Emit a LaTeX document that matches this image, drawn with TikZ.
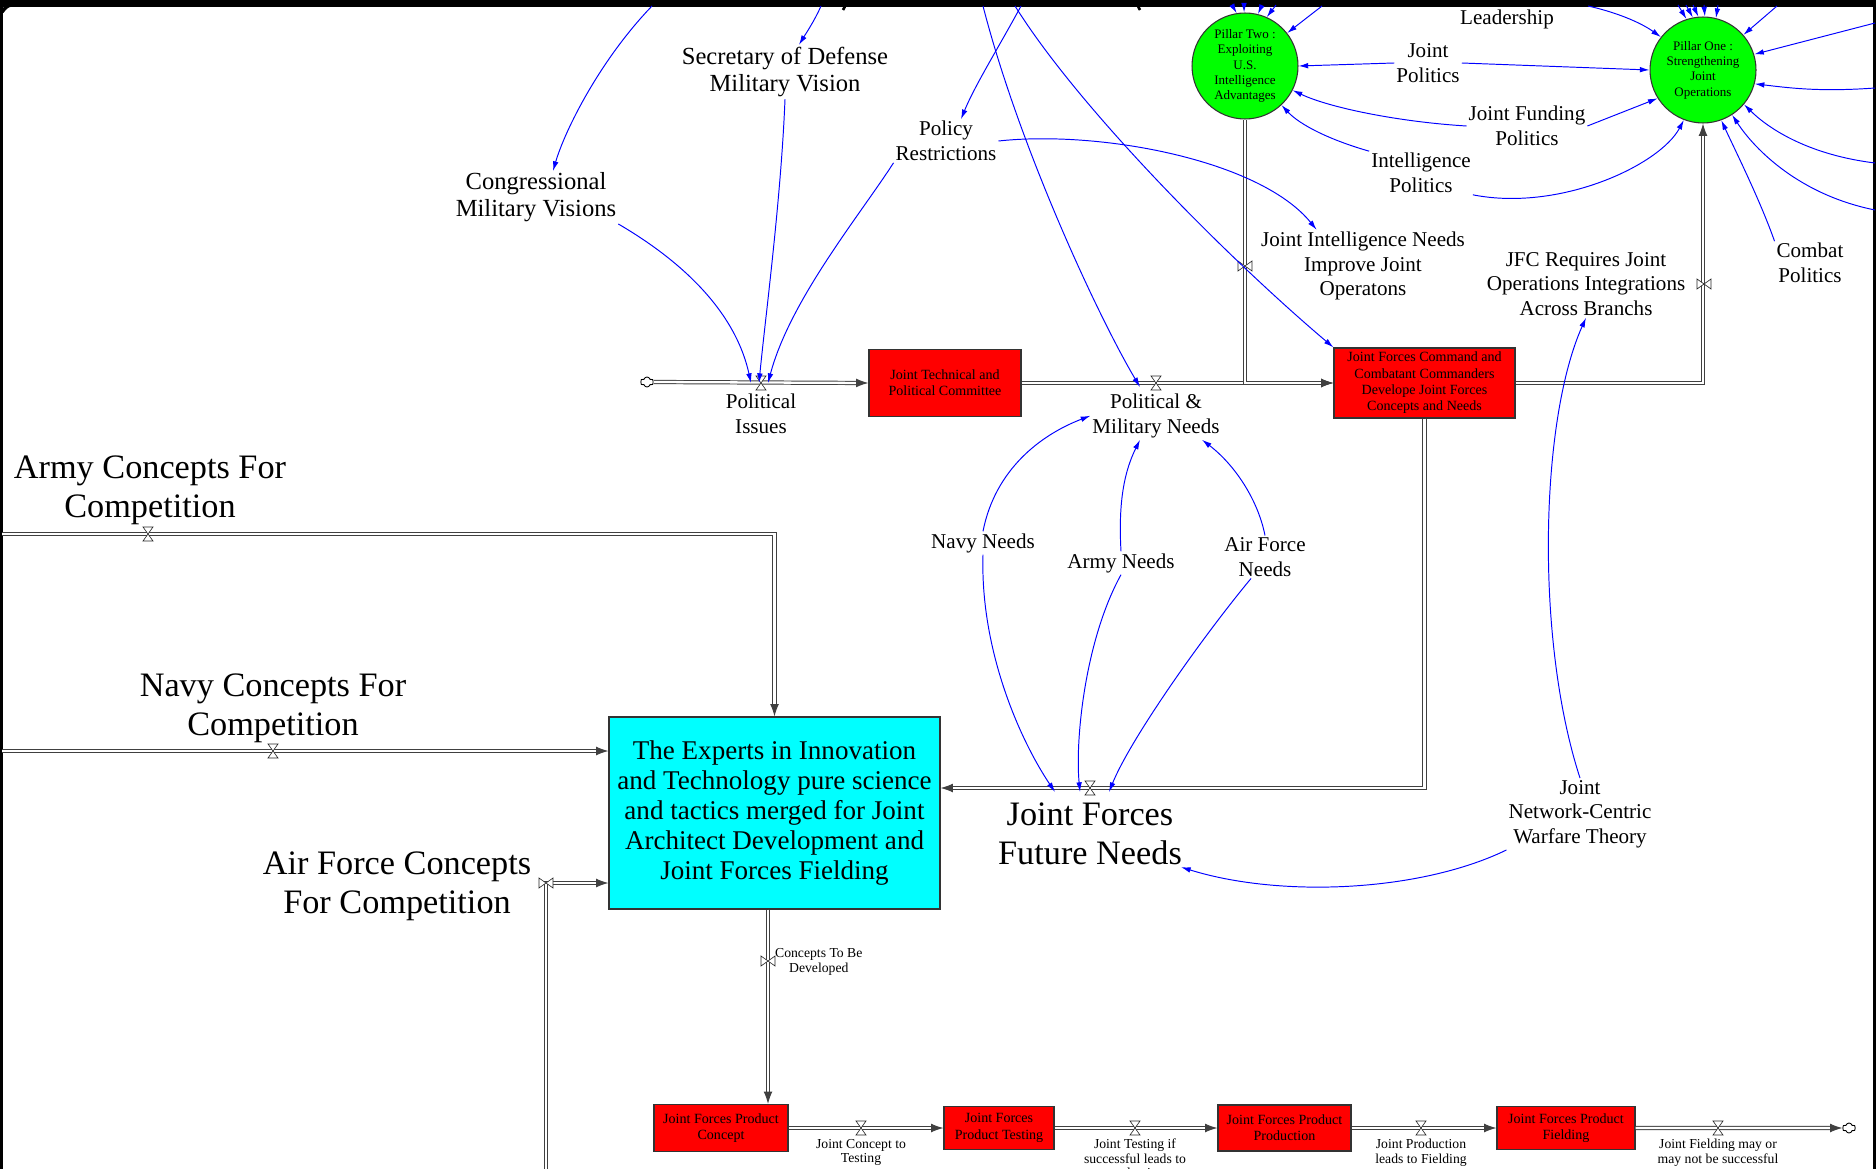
\documentclass[tikz,border=0pt]{standalone}
\usepackage{fontspec}
\setmainfont{Liberation Serif}
\usetikzlibrary{shapes.symbols, shapes.geometric, arrows.meta, positioning, calc}

\definecolor{stockred}{RGB}{255,0,0}
\definecolor{pillargreen}{RGB}{0,255,0}
\definecolor{expertcyan}{RGB}{0,255,255}
\definecolor{linkblue}{RGB}{0,0,255}

% valve symbols sitting on the pipes
\tikzset{
  valveh/.pic={\draw[draw=black!85, fill=white, line width=0.35pt] (-5,-7) -- (5,-7) -- (-5,7) -- (5,7) -- cycle;},
  valvev/.pic={\draw[draw=black!85, fill=white, line width=0.35pt] (-7,-5) -- (-7,5) -- (7,-5) -- (7,5) -- cycle;},
}

\begin{document}
\begin{tikzpicture}[x=0.02cm, y=-0.02cm,
    biglbl/.style={align=center, inner sep=1pt, font=\fontsize{19.5}{22.2}\selectfont},
    midlbl/.style={align=center, inner sep=1pt, font=\fontsize{14}{15.6}\selectfont},
    lbl/.style={align=center, inner sep=1pt, font=\fontsize{12}{14}\selectfont},
    tinylbl/.style={align=center, inner sep=1pt, font=\fontsize{7.8}{8.3}\selectfont},
    stock/.style={rectangle, draw=black!80, fill=stockred, line width=0.7pt, align=center, inner sep=0pt, font=\fontsize{8}{9.3}\selectfont},
    pillar/.style={circle, draw=black!80, fill=pillargreen, line width=0.6pt, minimum size=2.12cm, inner sep=0pt, align=center, font=\fontsize{7.4}{8.7}\selectfont},
    cloudsym/.style={cloud, cloud puffs=6, draw, line width=0.5pt, minimum width=0.26cm, minimum height=0.2cm, inner sep=0pt},
    pipe/.style={draw=black!75, double=white, line width=0.55pt, double distance=1.3pt},
    pipeto/.style={pipe, -{Latex[length=7pt, width=5pt]}},
    infl/.style={draw=linkblue, line width=0.55pt, -{Latex[length=5.5pt, width=3.2pt]}}]

    \clip (0,0) rectangle (1876,1169);
    \fill[white] (0,0) rectangle (1876,1169);

    % frame
    \draw[line width=4pt] (0,3) -- (1876,3);
    \draw[line width=1.8pt] (1.5,0) -- (1.5,1169);
    \draw[line width=1.8pt] (1874.5,0) -- (1874.5,1169);
    \draw[line width=2pt] (2,12) .. controls (8,4) .. (40,3);
    \draw[line width=1.5pt] (838,3) .. controls (846,5) .. (843,10);
    \draw[line width=1.5pt] (1145,3) .. controls (1137,5) .. (1140,10);

    % pillars
    \node[pillar] (ptwo) at (1245,66) {Pillar Two :\\Exploiting\\U.S.\\Intelligence\\Advantages};
    \node[pillar] (pone) at (1703,70) {Pillar One :\\Strengthening\\Joint\\Operations};

    % stocks
    \node[stock, minimum width=3.04cm, minimum height=1.34cm] (jtech) at (945,383) {Joint Technical and\\Political Committee};
    \node[stock, minimum width=3.62cm, minimum height=1.4cm] (jfc) at (1424.5,383) {Joint Forces Command and\\Combatant Commanders\\Develope Joint Forces\\Concepts and Needs};
    \node[rectangle, draw=black!80, fill=expertcyan, line width=0.7pt, minimum width=6.62cm, minimum height=3.84cm, inner sep=0pt, align=center,
          font=\fontsize{15.4}{17}\selectfont] (cyan) at (774.5,813)
        {The Experts in Innovation\\and Technology pure science\\and tactics merged for Joint\\Architect Development and\\Joint Forces Fielding};
    \node[stock, minimum width=2.68cm, minimum height=0.94cm] (concept) at (721,1128) {Joint Forces Product\\Concept};
    \node[stock, minimum width=2.2cm, minimum height=0.86cm] (testing) at (999,1128) {Joint Forces\\Product Testing};
    \node[stock, minimum width=2.66cm, minimum height=0.92cm] (production) at (1284.5,1128) {Joint Forces Product\\Production};
    \node[stock, minimum width=2.76cm, minimum height=0.86cm] (fielding) at (1566,1128) {Joint Forces Product\\Fielding};

    % sources and sinks
    \node[cloudsym] (pisrc) at (647,382) {};
    \node[cloudsym] (fsink) at (1849,1128) {};
    \coordinate (armysrc) at (2,534);
    \coordinate (navysrc) at (2,751);
    \coordinate (afsrc) at (546,1169);

    % valves
    \coordinate (piv) at (761,383);
    \coordinate (pmv) at (1156,383);
    \coordinate (jfv) at (1090,788);
    \coordinate (armyv) at (148,534);
    \coordinate (navyv) at (273,751);
    \coordinate (afv) at (546,883);
    \coordinate (cdv) at (768,961);
    \coordinate (p2v) at (1245,266);
    \coordinate (p1v) at (1704,284);
    \coordinate (ctv) at (861,1128);
    \coordinate (tpv) at (1135,1128);
    \coordinate (pfv) at (1421,1128);
    \coordinate (fsv) at (1718,1128);

    % pipes
    \draw[pipeto] (pisrc.east) -- (jtech.west);
    \draw[pipeto] (jtech.east) -- (jfc.west);
    \draw[pipeto] (ptwo.south) |- (jfc.west);
    \draw[pipeto] (jfc.east) -| (pone.south);
    \draw[pipeto] (jfc.south) |- (jfv) -- (jfv -| cyan.east);
    \draw[pipeto] (armysrc) -| (cyan.north);
    \draw[pipeto] (navysrc) -- (navysrc -| cyan.west);
    \draw[pipeto] (afsrc) -- (afv) -- (afv -| cyan.west);
    \draw[pipeto] (cyan.south -| cdv) -- (cdv |- concept.north);
    \draw[pipeto] (concept.east) -- (testing.west);
    \draw[pipeto] (testing.east) -- (production.west);
    \draw[pipeto] (production.east) -- (fielding.west);
    \draw[pipeto] (fielding.east) -- (fsink.west);

    \foreach \v in {piv, pmv, jfv, armyv, navyv, ctv, tpv, pfv, fsv}
        \pic at (\v) {valveh};
    \foreach \v in {afv, cdv, p2v, p1v}
        \pic at (\v) {valvev};

    % flow labels
    \node[lbl, below=5pt of piv] (pilbl) {Political\\Issues};
    \node[lbl, below=5pt of pmv] (pmlbl) {Political \&\\Military Needs};
    \node[biglbl] (jflbl) at (1090,834) {Joint Forces\\Future Needs};
    \node[biglbl] (armylbl) at (150,490) {Army Concepts For\\Competition};
    \node[biglbl] (navylbl) at (273,708) {Navy Concepts For\\Competition};
    \node[biglbl] (aflbl) at (397,886) {Air Force Concepts\\For Competition};
    \node[tinylbl, anchor=west] (cdlbl) at (773,962) {Concepts To Be\\Developed};
    \node[tinylbl, anchor=north] (ctlbl) at (861,1137) {Joint Concept to\\Testing};
    \node[tinylbl, anchor=north] (tplbl) at (1135,1137) {Joint Testing if\\successful leads to\\production};
    \node[tinylbl, anchor=north] (pflbl) at (1421,1137) {Joint Production\\leads to Fielding};
    \node[tinylbl, anchor=north] (fslbl) at (1718,1137) {Joint Fielding may or\\may not be successful};

    % auxiliary variables
    \node[midlbl] (congr) at (536,197) {Congressional\\Military Visions};
    \node[midlbl] (secdef) at (785,72) {Secretary of Defense\\Military Vision};
    \node[lbl] (policy) at (946,141) {Policy\\Restrictions};
    \node[lbl] (jintel) at (1363,266) {Joint Intelligence Needs\\Improve Joint\\Operatons};
    \node[lbl] (jfcreq) at (1586,284) {JFC Requires Joint\\Operations Integrations\\Across Branchs};
    \node[lbl] (leader) at (1507,19) {Leadership};
    \node[lbl] (jpol) at (1428,63) {Joint\\Politics};
    \node[lbl] (jfund) at (1527,126) {Joint Funding\\Politics};
    \node[lbl] (intpol) at (1421,173) {Intelligence\\Politics};
    \node[lbl] (combat) at (1810,263) {Combat\\Politics};
    \node[lbl] (navyneeds) at (983,543) {Navy Needs};
    \node[lbl] (armyneeds) at (1121,563) {Army Needs};
    \node[lbl] (afneeds) at (1265,557) {Air Force\\Needs};
    \node[lbl] (jnct) at (1580,814) {Joint\\Network-Centric\\Warfare Theory};

    % links entering from above the frame
    \coordinate (t1) at (652,6);
    \coordinate (t2) at (821,6);
    \coordinate (t3) at (1021,6);
    \coordinate (t4) at (983,6);
    \coordinate (t5) at (1015,6);
    \coordinate (t6) at (1322,6);
    \coordinate (t7) at (1777,6);
    \coordinate (t8) at (1588,6);
    \draw[infl] (t1) .. controls (600,60) and (565,130) .. (553,171);
    \draw[infl] (t2) .. controls (815,20) and (805,35) .. (secdef.north -| 799,0);
    \draw[infl] (t3) .. controls (1000,45) and (975,85) .. (policy.north -| 961,0);
    \draw[infl] (t4) .. controls (1020,150) and (1100,320) .. ($(pmv)+(-16,4)$);
    \draw[infl] (t5) .. controls (1080,110) and (1230,260) .. (jfc.north west);
    \draw[infl] (t6) -- (ptwo.38);
    \draw[infl] (t7) -- (pone.41);
    \draw[infl] (t8) .. controls (1615,12) and (1640,22) .. (pone.142);
    \foreach \sx/\a in {1232/99, 1244/91, 1262/76, 1276/66}
        \draw[infl] (\sx,5) -- (ptwo.\a);
    \foreach \sx/\a in {1678/108, 1686/101, 1693/95, 1704/88, 1718/76}
        \draw[infl] (\sx,5) -- (pone.\a);

    % links from the right edge
    \draw[infl] (1875,23) -- (pone.17);
    \draw[infl] (1875,88) .. controls (1820,92) and (1790,88) .. (pone.-15);
    \draw[infl] (1875,163) .. controls (1810,155) and (1770,130) .. (pone.-40);
    \draw[infl] (1875,210) .. controls (1800,195) and (1755,150) .. (pone.-57);

    % political issues inputs
    \draw[infl] (congr.south east) .. controls (680,260) and (735,310) .. ($(piv)+(-10,0)$);
    \draw[infl] (secdef.south) .. controls (781,200) and (765,320) .. ($(piv)+(-2,0)$);
    \draw[infl] (policy.south west) .. controls (860,215) and (790,300) .. ($(piv)+(7,0)$);
    \draw[infl] (policy.east) .. controls (1100,130) and (1260,160) .. (jintel.142);

    % pillar politics
    \draw[infl] (jpol.west) -- (ptwo.east);
    \draw[infl] (jpol.east) -- (pone.west);
    \draw[infl] (jfund.west) .. controls (1400,122) and (1330,108) .. (ptwo.-27);
    \draw[infl] (jfund.east) -- (pone.212);
    \draw[infl] (intpol.north west) .. controls (1330,140) and (1300,125) .. (ptwo.-47);
    \draw[infl] (intpol.south east) .. controls (1560,212) and (1660,165) .. (pone.249);
    \draw[infl] (combat.north west) .. controls (1760,200) and (1735,150) .. (pone.-70);

    % service needs
    \draw[infl] (navyneeds.north) .. controls (995,470) and (1040,435) .. (pmlbl.west);
    \draw[infl] (navyneeds.south) .. controls (980,650) and (1020,740) .. ($(jfv)+(-35,4)$);
    \draw[infl] (armyneeds.north) .. controls (1118,500) and (1125,470) .. ($(pmlbl.south)+(-16,0)$);
    \draw[infl] (armyneeds.south) .. controls (1085,640) and (1075,740) .. ($(jfv)+(-10,4)$);
    \draw[infl] (afneeds.north) .. controls (1258,500) and (1235,465) .. ($(pmlbl.south)+(46,0)$);
    \draw[infl] ($(afneeds.south)+(-14,0)$) .. controls (1200,640) and (1130,740) .. ($(jfv)+(19,4)$);

    % network-centric theory
    \draw[infl] (jnct.north) .. controls (1535,640) and (1540,420) .. (jfcreq.south);
    \draw[infl] (jnct.south west) .. controls (1420,892) and (1280,898) .. (jflbl.-20);
\end{tikzpicture}
\end{document}
